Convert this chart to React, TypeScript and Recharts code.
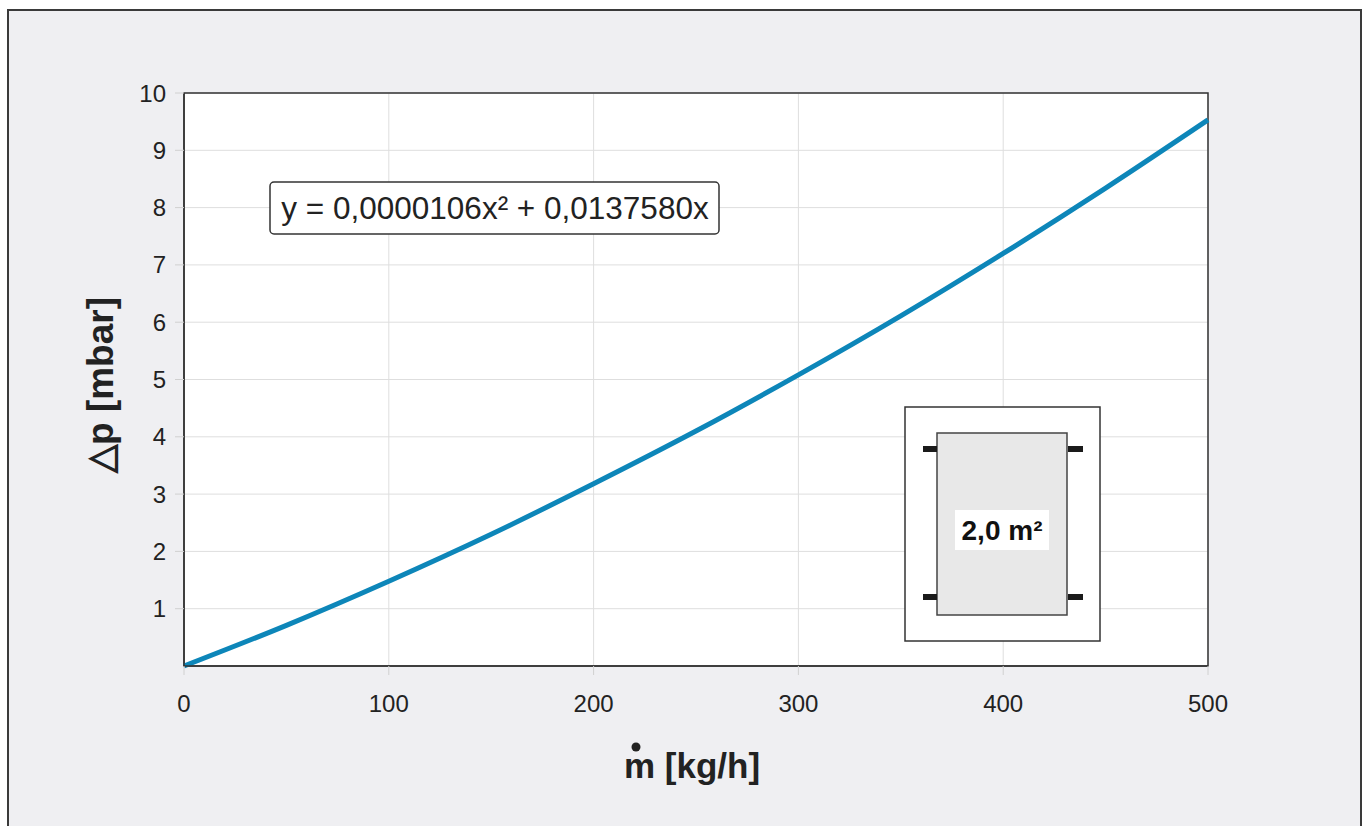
import { CartesianGrid, Line, LineChart, ReferenceArea, XAxis, YAxis } from "recharts";

// mass flow [kg/h] and pressure drop [mbar]
const massFlow = [0, 50, 100, 150, 200, 250, 300, 350, 400, 450, 500];
const pressureDrop = [0, 0.71, 1.48, 2.3, 3.18, 4.1, 5.08, 6.11, 7.2, 8.34, 9.53];
const xTicks = [0, 100, 200, 300, 400, 500];
const yTicks = [1, 2, 3, 4, 5, 6, 7, 8, 9, 10];

const equation = "y = 0,0000106x² + 0,0137580x";
const areaLabel = "2,0 m²";

const data = massFlow.map((m, i) => ({ m, dp: pressureDrop[i] }));

const W = 1363;
const H = 826;
const font = "'Liberation Sans', Arial, sans-serif";

const Overlay = () => (
  <svg width={W} height={H} style={{ position: "absolute", left: 0, top: 0, pointerEvents: "none" }}>
    {/* equation box */}
    <rect x={270} y={182} width={449} height={52} rx={4} fill="#fff" stroke="#333" strokeWidth={1.5} />
    <text x={495} y={219} textAnchor="middle" fontFamily={font} fontSize={31.5} fill="#222">
      {equation}
    </text>

    {/* radiator inset */}
    <rect x={905} y={407} width={195} height={234} fill="#fff" stroke="#333" strokeWidth={1.5} />
    <rect x={937} y={433} width={130} height={182} fill="#e8e8e8" stroke="#444" strokeWidth={1.5} />
    <rect x={923} y={446} width={14} height={6} fill="#1a1a1a" />
    <rect x={923} y={594} width={14} height={6} fill="#1a1a1a" />
    <rect x={1068} y={446} width={15} height={6} fill="#1a1a1a" />
    <rect x={1068} y={594} width={15} height={6} fill="#1a1a1a" />
    <rect x={955} y={510} width={94} height={40} fill="#fff" />
    <text x={1002} y={540} textAnchor="middle" fontFamily={font} fontSize={28} fontWeight="bold" fill="#111">
      {areaLabel}
    </text>

    {/* axis titles */}
    <text x={692} y={778} textAnchor="middle" fontFamily={font} fontSize={35} fontWeight="bold" fill="#222">
      m [kg/h]
    </text>
    <circle cx={636} cy={747} r={4.5} fill="#222" />
    <text
      x={0}
      y={0}
      transform="translate(113,385) rotate(-90)"
      textAnchor="middle"
      fontFamily={font}
      fontSize={37}
      fontWeight="bold"
      fill="#222"
    >
      △p [mbar]
    </text>
  </svg>
);

export default function App() {
  return (
    <div style={{ position: "absolute", left: 0, top: 0, width: W, height: H, overflow: "hidden" }}>
      <div
        style={{
          position: "absolute",
          left: 7,
          top: 9,
          width: 1351,
          height: 840,
          background: "#efeff2",
          border: "2px solid #3a3a3a",
        }}
      />
      <div style={{ position: "absolute", left: 0, top: 0 }}>
        <LineChart width={W} height={H} data={data} margin={{ top: 93, right: 155, left: 84, bottom: 100 }}>
          <CartesianGrid stroke="#dedede" fill="#fff" />
          <XAxis
            dataKey="m"
            type="number"
            domain={[0, 500]}
            ticks={xTicks}
            height={60}
            axisLine={{ stroke: "#333", strokeWidth: 1.5 }}
            tickLine={{ stroke: "#d0d0d0" }}
            tickSize={9}
            tickMargin={20}
            tick={{ fontFamily: font, fontSize: 24, fill: "#222" }}
          />
          <YAxis
            type="number"
            domain={[0, 10]}
            ticks={yTicks}
            width={100}
            axisLine={{ stroke: "#333", strokeWidth: 1.5 }}
            tickLine={{ stroke: "#d0d0d0" }}
            tickSize={9}
            tickMargin={9}
            tick={{ fontFamily: font, fontSize: 24, fill: "#222" }}
          />
          <ReferenceArea x1={0} x2={500} y1={0} y2={10} fill="none" stroke="#333" strokeWidth={1.5} />
          <Line
            type="monotone"
            dataKey="dp"
            stroke="#0d86b9"
            strokeWidth={5}
            dot={false}
            isAnimationActive={false}
          />
        </LineChart>
      </div>
      <Overlay />
    </div>
  );
}
